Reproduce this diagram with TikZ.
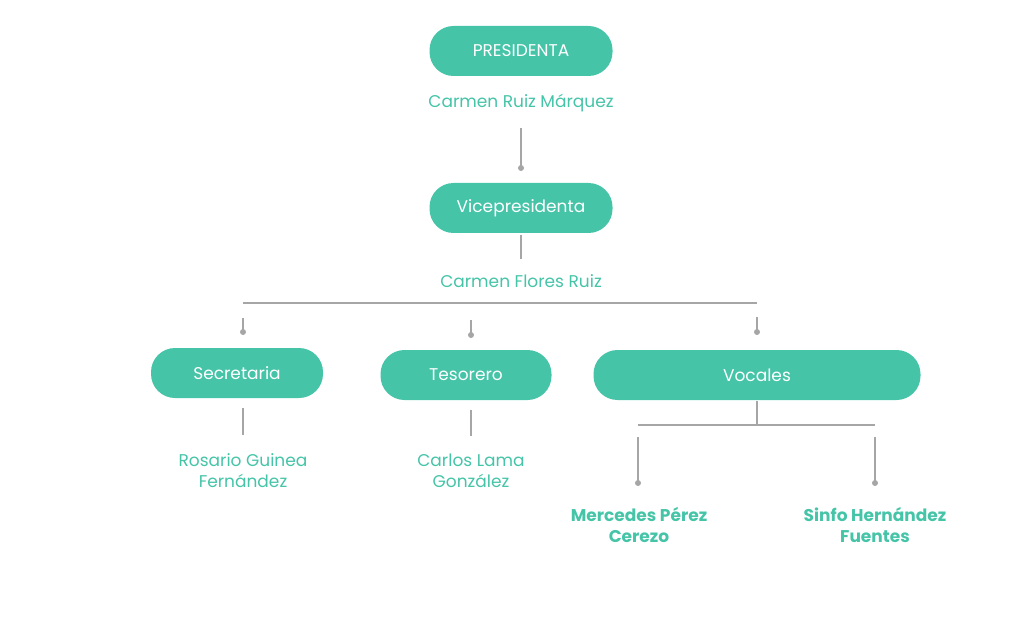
\documentclass[tikz,border=0pt]{standalone}
\usepackage{fontspec}
\setmainfont{Poppins}
\definecolor{gr}{HTML}{45C4A8}
\definecolor{ln}{HTML}{A6A6A6}
\begin{document}
\begin{tikzpicture}[x=1pt,y=-1pt,
 pill/.style={fill=gr,rounded corners=24pt,text=white,font=\fontsize{17}{20}\selectfont,minimum height=50pt,inner sep=0pt},
 nm/.style={text=gr,font=\fontsize{17}{21}\selectfont,align=center},
 bnm/.style={text=gr,font=\fontsize{17}{21}\selectfont\bfseries,align=center},
 con/.style={draw=ln,line width=1.3pt},
 dot/.style={circle,fill=ln,inner sep=0pt,minimum size=6pt}]
\useasboundingbox (0,0) rectangle (1024,628);
\node[pill,minimum width=183pt] (pres) at (521,51) {PRESIDENTA};
\node[nm] (n1) at (521,103) {Carmen Ruiz Márquez};
\coordinate (a1) at (521,128); \node[dot] (d1) at (521,168) {};
\draw[con] (a1) -- (d1.center);
\node[pill,minimum width=183pt] (vice) at (521,208) {Vicepresidenta};
\coordinate (a2) at (521,235); \coordinate (b2) at (521,259);
\draw[con] (a2) -- (b2);
\node[nm] (n2) at (521,281) {Carmen Flores Ruiz};
\coordinate (hl) at (243,303); \coordinate (hr) at (757,303);
\draw[con] (hl) -- (hr);
\coordinate (s1) at (243,318); \node[dot] (sd) at (243,332) {}; \draw[con] (s1) -- (sd.center);
\coordinate (t1) at (471,320); \node[dot] (td) at (471,335) {}; \draw[con] (t1) -- (td.center);
\coordinate (v1) at (757,317); \node[dot] (vd) at (757,332) {}; \draw[con] (v1) -- (vd.center);
\node[pill,minimum width=172pt] (sec) at (237,373) {Secretaria};
\node[pill,minimum width=171pt] (tes) at (466,375) {Tesorero};
\node[pill,minimum width=327pt] (voc) at (757,375) {Vocales};
\coordinate (s2) at (243,408); \coordinate (s3) at (243,435); \draw[con] (s2) -- (s3);
\coordinate (t2) at (471,410); \coordinate (t3) at (471,436); \draw[con] (t2) -- (t3);
\node[nm] (n3) at (243,471) {Rosario Guinea\\Fernández};
\node[nm] (n4) at (471,471) {Carlos Lama\\González};
\coordinate (v2) at (757,401); \coordinate (v3) at (757,425); \draw[con] (v2) -- (v3);
\coordinate (vl) at (638,425); \coordinate (vr) at (875,425); \draw[con] (vl) -- (vr);
\coordinate (m1) at (638,437); \node[dot] (md) at (638,483) {}; \draw[con] (m1) -- (md.center);
\coordinate (f1) at (875,437); \node[dot] (fd) at (875,483) {}; \draw[con] (f1) -- (fd.center);
\node[bnm] (n5) at (639,525) {Mercedes Pérez\\Cerezo};
\node[bnm] (n6) at (875,525) {Sinfo Hernández\\Fuentes};
\end{tikzpicture}
\end{document}
